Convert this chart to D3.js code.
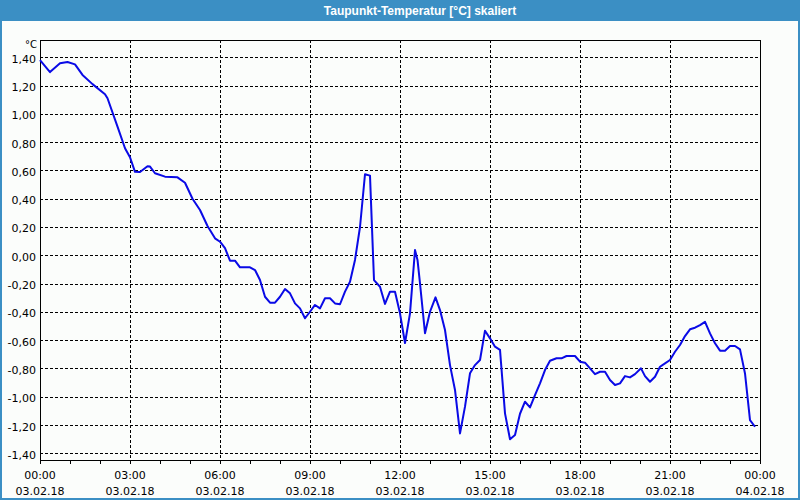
<!DOCTYPE html>
<html>
<head>
<meta charset="utf-8">
<script src="https://cdn.jsdelivr.net/npm/d3@7"></script>
<style>
  html, body { margin: 0; padding: 0; background: #fbfdfb; }
  svg { display: block; }
  text { font-family: Tahoma, "DejaVu Sans", "Liberation Sans", sans-serif; }
</style>
</head>
<body>
<svg id="chart" width="800" height="500"></svg>
<script>
const chartTitle = "Taupunkt-Temperatur [°C] skaliert";
const unitLabel = "°C";
const times = ["00:00","00:20","00:40","00:55","01:10","01:25","01:45","02:10","02:15","02:35","02:50","03:00","03:10","03:20","03:35","03:40","03:50","04:10","04:35","04:50","05:05","05:20","05:35","05:50","06:00","06:10","06:20","06:30","06:40","07:00","07:10","07:20","07:30","07:40","07:50","08:00","08:10","08:20","08:30","08:40","08:50","09:00","09:10","09:20","09:30","09:40","09:50","10:00","10:10","10:20","10:30","10:40","10:50","11:00","11:08","11:20","11:30","11:40","11:50","12:00","12:10","12:20","12:30","12:35","12:40","12:50","13:00","13:11","13:20","13:30","13:40","13:50","14:00","14:10","14:20","14:30","14:40","14:50","15:00","15:10","15:20","15:30","15:40","15:50","16:00","16:10","16:20","16:30","16:40","16:50","17:00","17:13","17:23","17:33","17:50","18:00","18:10","18:20","18:30","18:40","18:50","19:00","19:10","19:20","19:30","19:40","19:50","20:02","20:10","20:20","20:30","20:40","20:50","21:00","21:10","21:20","21:30","21:40","21:50","22:00","22:10","22:20","22:30","22:40","22:50","23:00","23:10","23:20","23:30","23:40","23:50"];
const dewPoint = [1.38,1.295,1.357,1.367,1.35,1.275,1.21,1.138,1.11,0.91,0.757,0.693,0.59,0.589,0.63,0.627,0.58,0.556,0.551,0.513,0.40,0.32,0.207,0.12,0.096,0.05,-0.038,-0.038,-0.085,-0.085,-0.104,-0.175,-0.293,-0.335,-0.335,-0.293,-0.238,-0.269,-0.34,-0.375,-0.445,-0.399,-0.351,-0.375,-0.304,-0.304,-0.34,-0.346,-0.257,-0.187,-0.033,0.20,0.573,0.563,-0.175,-0.222,-0.344,-0.257,-0.257,-0.41,-0.62,-0.41,0.037,-0.033,-0.198,-0.551,-0.399,-0.297,-0.387,-0.528,-0.776,-0.952,-1.259,-1.07,-0.834,-0.776,-0.74,-0.533,-0.587,-0.646,-0.668,-1.117,-1.30,-1.27,-1.12,-1.035,-1.075,-0.988,-0.905,-0.811,-0.745,-0.728,-0.728,-0.712,-0.712,-0.752,-0.759,-0.799,-0.84,-0.823,-0.823,-0.882,-0.917,-0.905,-0.854,-0.863,-0.84,-0.799,-0.854,-0.894,-0.858,-0.788,-0.764,-0.74,-0.682,-0.634,-0.571,-0.523,-0.512,-0.493,-0.47,-0.552,-0.622,-0.674,-0.674,-0.641,-0.641,-0.665,-0.835,-1.165,-1.212];
const yTickValues = [1.4,1.2,1.0,0.8,0.6,0.4,0.2,0.0,-0.2,-0.4,-0.6,-0.8,-1.0,-1.2,-1.4];
const xTickLabels = [["00:00","03.02.18"],["03:00","03.02.18"],["06:00","03.02.18"],["09:00","03.02.18"],["12:00","03.02.18"],["15:00","03.02.18"],["18:00","03.02.18"],["21:00","03.02.18"],["00:00","04.02.18"]];

const W = 800, H = 500;
const m = {left: 40, top: 40, right: 760, bottom: 460};
const svg = d3.select("#chart");

const parse = d3.timeParse("%Y-%m-%d %H:%M");
const t0 = parse("2018-02-03 00:00"), t1 = parse("2018-02-04 00:00");
const data = times.map((t, i) => ({t: parse("2018-02-03 " + t), v: dewPoint[i]}));

const x = d3.scaleTime().domain([t0, t1]).range([m.left, m.right]);
const y = d3.scaleLinear().domain([-1.447, 1.522]).range([m.bottom, m.top]);

// window frame
svg.append("rect").attr("x", 0).attr("y", 0).attr("width", W).attr("height", H).attr("fill", "#3b8fc4");
svg.append("rect").attr("x", 2).attr("y", 21).attr("width", W - 4).attr("height", H - 23).attr("fill", "#fbfdfb");
svg.append("text").attr("x", 420).attr("y", 15).attr("text-anchor", "middle")
  .attr("fill", "#ffffff").attr("font-weight", "bold").attr("font-size", 12)
  .style("font-family", "'Liberation Sans', sans-serif").text(chartTitle);

// grid
const grid = svg.append("g").attr("shape-rendering", "crispEdges")
  .attr("stroke", "#000").attr("stroke-dasharray", "3,2").attr("stroke-width", 1);
grid.selectAll("line.h").data(yTickValues).join("line")
  .attr("x1", m.left).attr("x2", m.right)
  .attr("y1", d => Math.round(y(d)) + 0.5).attr("y2", d => Math.round(y(d)) + 0.5);
const hourTicks = d3.timeHour.every(3).range(t0, t1).slice(1);
grid.selectAll("line.v").data(hourTicks).join("line")
  .attr("y1", m.top).attr("y2", m.bottom)
  .attr("x1", d => Math.round(x(d)) + 0.5).attr("x2", d => Math.round(x(d)) + 0.5);

// x axis
const xAxis = d3.axisBottom(x).ticks(d3.timeHour.every(1)).tickSize(4).tickFormat("");
const gx = svg.append("g").attr("transform", `translate(0,${m.bottom})`).call(xAxis);
gx.select(".domain").remove();
gx.selectAll("line").attr("stroke", "#000").attr("shape-rendering", "crispEdges");
const labelTicks = d3.timeHour.every(3).range(t0, d3.timeMinute.offset(t1, 1));
labelTicks.forEach((d, i) => {
  const g = svg.append("g").attr("transform", `translate(${x(d)},0)`);
  g.append("text").attr("y", 479).attr("text-anchor", "middle").attr("font-size", 11).attr("fill", "#000").text(xTickLabels[i][0]);
  g.append("text").attr("y", 495).attr("text-anchor", "middle").attr("font-size", 11).attr("fill", "#000").text(xTickLabels[i][1]);
});

// y axis labels
const fmt = d3.format(".2f");
const yAxis = d3.axisLeft(y).tickValues(yTickValues).tickSize(0).tickPadding(4)
  .tickFormat(d => fmt(d).replace(".", ",").replace("−", "-"));
const gy = svg.append("g").attr("transform", `translate(${m.left},0)`).call(yAxis);
gy.select(".domain").remove();
gy.selectAll("text").attr("font-size", 11).attr("fill", "#000").attr("dy", "0.45em")
  .style("font-family", "Tahoma, 'DejaVu Sans', sans-serif");
svg.append("text").attr("x", 37).attr("y", 48).attr("text-anchor", "end").attr("font-size", 10).attr("fill", "#000").text(unitLabel);

// frame
svg.append("rect").attr("x", m.left + 0.5).attr("y", m.top + 0.5)
  .attr("width", m.right - m.left).attr("height", m.bottom - m.top)
  .attr("fill", "none").attr("stroke", "#000").attr("stroke-width", 1).attr("shape-rendering", "crispEdges");

// line
const line = d3.line().x(d => x(d.t)).y(d => y(d.v));
svg.append("path").datum(data).attr("d", line)
  .attr("fill", "none").attr("stroke", "#0a0ae6").attr("stroke-width", 2)
  .attr("stroke-linejoin", "round");
</script>
</body>
</html>
